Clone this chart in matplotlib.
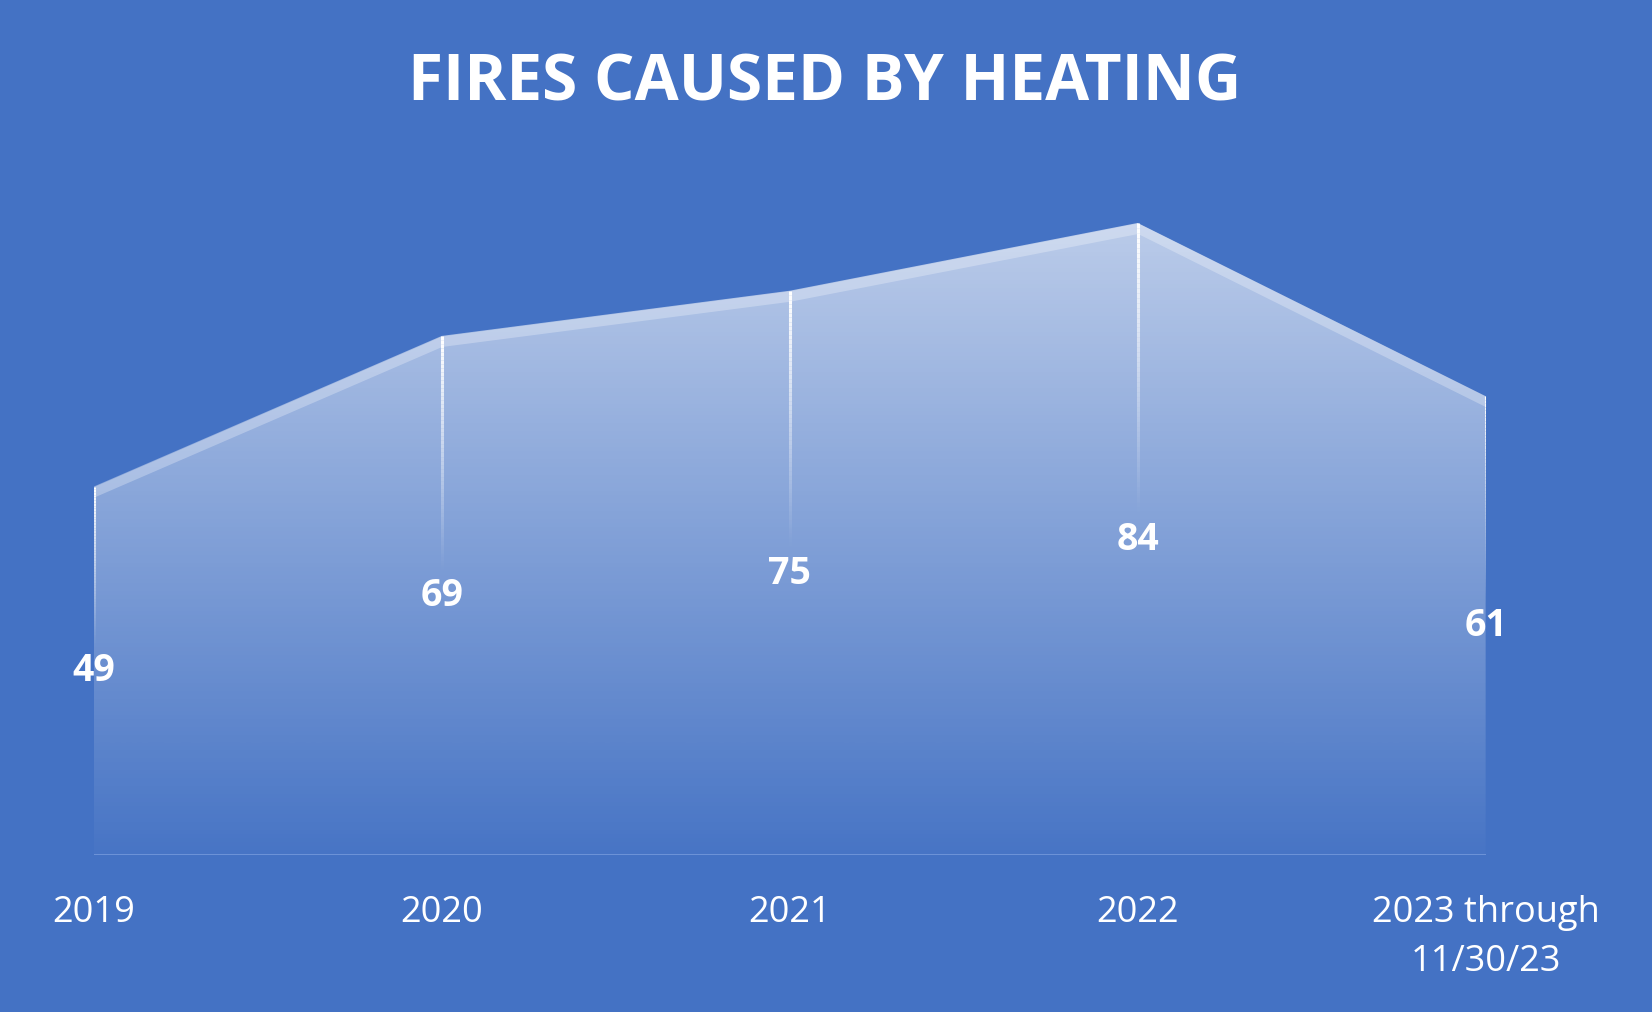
import numpy as np
import matplotlib.pyplot as plt
from matplotlib.collections import LineCollection
from matplotlib.patches import Polygon

years = ["2019", "2020", "2021", "2022", "2023 through\n11/30/23"]
fires = [49, 69, 75, 84, 61]

bg = "#4472C4"
x = np.arange(len(years))
y = np.array(fires, dtype=float)
ymax = 90

fig = plt.figure(figsize=(16.52, 10.125), dpi=100, facecolor=bg)
unit = (0.7793 - 0.1546) / 84
ax = fig.add_axes([0.0568, 0.1546, 0.8425, unit * ymax])
ax.set_facecolor(bg)
ax.set_xlim(0, len(years) - 1)
ax.set_ylim(0, ymax)

# gradient area fill clipped to the series shape
verts = np.column_stack([np.r_[x[0], x, x[-1]], np.r_[0, y, 0]])
area = Polygon(verts, closed=True, facecolor="none", edgecolor="none")
ax.add_patch(area)
grad = np.zeros((256, 1, 4))
grad[..., :3] = 1.0
grad[:, 0, 3] = np.linspace(0.02, 0.64, 256)
img = ax.imshow(grad, extent=[x[0], x[-1], 0, max(fires)], origin="lower",
                aspect="auto", interpolation="bicubic", zorder=2)
img.set_clip_path(area)

# lighter band just under the top edge
ax.fill_between(x, y - 1.4, y, color="white", alpha=0.28, lw=0, zorder=3)

# base line
ax.plot([x[0], x[-1]], [0, 0], color="#7196da", lw=2, zorder=3)

# drop lines fading from each point down toward its label
for xi, yi in zip(x, y):
    ys = np.linspace(yi, yi / 2 + 3, 60)
    segs = [[(xi, ys[i]), (xi, ys[i + 1])] for i in range(len(ys) - 1)]
    alphas = np.linspace(1, 0, len(segs)) ** 1.1
    cols = [(1, 1, 1, a) for a in alphas]
    ax.add_collection(LineCollection(segs, colors=cols, linewidths=2.2, zorder=4))
    ax.text(xi, yi / 2, f"{int(yi)}", color="white", fontsize=27,
            fontweight="bold", family="Open Sans", ha="center", va="center", zorder=5)

ax.set_xticks(x)
ax.set_xticklabels(years, color="white", fontsize=26, family="Open Sans", linespacing=1.5)
ax.tick_params(axis="x", length=0, pad=28)
ax.set_yticks([])
for s in ax.spines.values():
    s.set_visible(False)

fig.text(0.499, 0.917, "FIRES CAUSED BY HEATING",
         color="white", fontsize=46, fontweight="bold", family="Open Sans",
         ha="center", va="center")

fig.savefig("out.png", dpi=100, facecolor=bg)
